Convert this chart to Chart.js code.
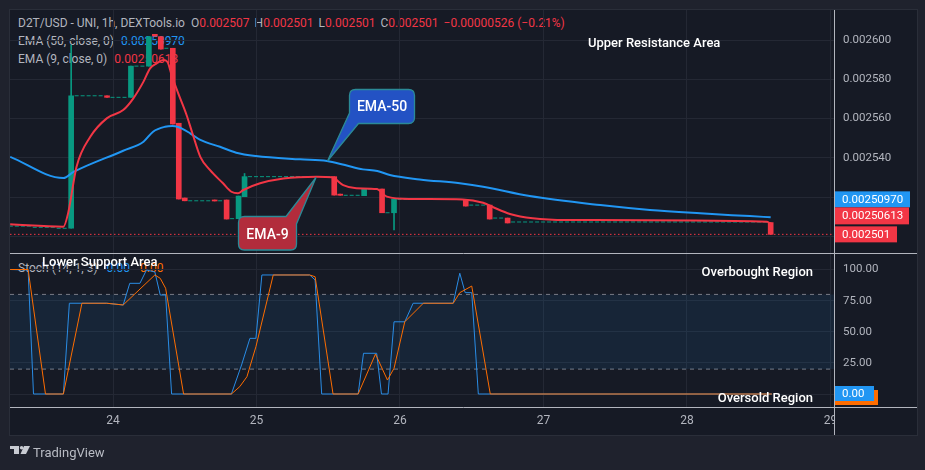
<!DOCTYPE html>
<html>
<head>
<meta charset="utf-8">
<script src="https://cdn.jsdelivr.net/npm/chart.js"></script>
<style>
body { margin:0; width:925px; height:470px; background:#1f222d; overflow:hidden; position:relative; font-family: Roboto, sans-serif; }
#frame { position:absolute; left:10px; top:10px; width:907px; height:425px; background:#161a25; box-shadow:0 0 0 1px #2a2e39; }
canvas { position:absolute; left:10px; z-index:2; }
.legend { position:absolute; z-index:1; font-size:12px; line-height:14px; color:#b2b5be; white-space:nowrap; }
.note { position:absolute; z-index:3; font-size:13px; font-weight:500; line-height:16px; color:#fff; white-space:nowrap; }
.red { color:#f23645; } .blue { color:#2196f3; } .orange { color:#ff6d00; }
</style>
</head>
<body>
<div id="frame"></div>

<div class="legend" style="left:18px;top:16px">D2T/USD - UNI, 1h, DEXTools.io<span style="margin-left:6px">O</span><span class="red">0.002507</span><span style="margin-left:5px">H</span><span class="red">0.002501</span><span style="margin-left:5px">L</span><span class="red">0.002501</span><span style="margin-left:5px">C</span><span class="red">0.002501</span><span class="red" style="margin-left:5px">−0.00000526 (−0.21%)</span></div>
<div class="legend" style="left:18px;top:34px">EMA (50, close, 0)<span class="blue" style="margin-left:7px">0.00250970</span></div>
<div class="legend" style="left:18px;top:52px">EMA (9, close, 0)<span class="red" style="margin-left:7px">0.00250613</span></div>
<div class="legend" style="left:18px;top:261px">Stoch (14, 1, 3)<span class="blue" style="margin-left:9px">0.00</span><span class="orange" style="margin-left:10px">0.00</span></div>

<canvas id="precos" width="907" height="244" style="top:10px"></canvas>
<canvas id="stoch" width="907" height="181" style="top:254px"></canvas>

<div class="note" style="left:588px;top:35px">Upper Resistance Area</div>
<div class="note" style="left:42px;top:254px">Lower Support Area</div>
<div class="note" style="right:112px;top:264px">Overbought Region</div>
<div class="note" style="right:112px;top:390px">Oversold Region</div>

<svg style="position:absolute;left:0;top:0;z-index:3" width="925" height="470">
  <path d="M355.5 89.5 H408.5 Q414.5 89.5 414.5 95.5 V117.5 Q414.5 123.5 408.5 123.5 H358.5 L327.5 161 L349.5 113 V95.5 Q349.5 89.5 355.5 89.5 Z" fill="#2352c4" stroke="#2b8a97" stroke-width="1.3"/>
  <text x="382" y="106" fill="#fff" font-family="Roboto" font-size="14" font-weight="500" text-anchor="middle" dominant-baseline="central">EMA-50</text>
  <path d="M244.5 216.5 H286 L316 177.5 L296.5 224 V244 Q296.5 250 290.5 250 H244.5 Q238.5 250 238.5 244 V222.5 Q238.5 216.5 244.5 216.5 Z" fill="#b22c3c" stroke="#2b8a97" stroke-width="1.3"/>
  <text x="267.5" y="233.5" fill="#fff" font-family="Roboto" font-size="14" font-weight="500" text-anchor="middle" dominant-baseline="central">EMA-9</text>
  <!-- logo -->
  <rect x="10" y="446" width="9" height="3" fill="#c8cbd2"/>
  <rect x="14" y="446" width="5" height="8" fill="#c8cbd2"/>
  <circle cx="21.6" cy="447.8" r="1.8" fill="#c8cbd2"/>
  <polygon points="24,446 30,446 26,454 20.5,454" fill="#c8cbd2"/>
  <text x="33" y="452" fill="#b9bcc4" font-family="Roboto" font-size="13" dominant-baseline="central">TradingView</text>
</svg>

<script>
// eixo x em horas a partir de 24 00:00
const xMin = -17.23, xMax = 120.59;
const priceMin = 0.0024915, priceMax = 0.0026153;
const stochMin = -10.44, stochMax = 112.45;

const dayTicks = [0, 24, 48, 72, 96, 120];
const dayLabels = ['24', '25', '26', '27', '28', '29'];

// velas com corpo
const candleHours = [-7, -1, 3, 6, 7, 8, 10, 11, 12, 17, 19, 21, 22, 37, 38, 42, 45, 47, 59, 63, 66, 110];
const candleOpen  = [0.0025041, 0.0025716, 0.0025708, 0.0025867, 0.0026029, 0.0026017, 0.0025958, 0.0025576, 0.0025195, 0.0025185, 0.0025185, 0.0025090, 0.0025202, 0.0025304, 0.0025215, 0.0025207, 0.0025241, 0.0025120, 0.0025185, 0.0025159, 0.0025093, 0.002507];
const candleClose = [0.0025716, 0.0025708, 0.0025867, 0.0026017, 0.0026020, 0.0025954, 0.0025572, 0.0025190, 0.0025181, 0.0025180, 0.0025088, 0.0025205, 0.0025304, 0.0025210, 0.0025209, 0.0025241, 0.0025120, 0.0025190, 0.0025154, 0.0025088, 0.0025068, 0.002501];
const candleHigh  = [0.0025974, 0.0025716, 0.0025867, 0.0026017, 0.0026029, 0.0026017, 0.0025958, 0.0025576, 0.0025195, 0.0025185, 0.0025185, 0.0025205, 0.0025320, 0.0025304, 0.0025215, 0.0025241, 0.0025241, 0.0025190, 0.0025185, 0.0025159, 0.0025093, 0.002507];
const candleLow   = [0.0025041, 0.0025708, 0.0025708, 0.0025867, 0.0026020, 0.0025954, 0.0025572, 0.0025190, 0.0025181, 0.0025180, 0.0025088, 0.0025090, 0.0025202, 0.0025210, 0.0025209, 0.0025207, 0.0025120, 0.0025032, 0.0025154, 0.0025088, 0.0025068, 0.002501];

// sequencias de velas sem corpo (doji)
const flatStart = [-17, -13, -9, -6, 0, 4, 9, 13, 18, 20, 23, 39, 43, 46, 48, 60, 64, 67];
const flatEnd   = [-14, -10, -8, -2, 2, 5, 9, 16, 18, 20, 36, 41, 44, 46, 58, 62, 65, 109];
const flatPrice = [0.0025052, 0.0025046, 0.0025041, 0.0025716, 0.0025708, 0.0025867, 0.0025958, 0.0025181, 0.0025181, 0.0025090, 0.0025304, 0.0025209, 0.0025241, 0.0025120, 0.0025188, 0.0025159, 0.0025093, 0.0025073];

const ema50Hours  = [-17.2, -8.3, -6.6, 1.7, 5.1, 6.7, 8.7, 9.9, 10.9, 12.9, 14.6, 17.9, 20.6, 23.9, 31.3, 35.8, 38.8, 41.8, 44.2, 46.3, 51.3, 58, 61.9, 69.7, 81.5, 89.8, 98.2, 106.5, 110];
const ema50Values = [0.0025405, 0.0025297, 0.0025328, 0.0025436, 0.0025482, 0.0025533, 0.0025558, 0.0025562, 0.0025557, 0.0025525, 0.0025491, 0.0025456, 0.0025426, 0.0025409, 0.0025392, 0.0025384, 0.0025363, 0.0025341, 0.0025333, 0.0025312, 0.0025290, 0.0025270, 0.0025253, 0.0025205, 0.0025159, 0.0025134, 0.0025117, 0.0025103, 0.0025097];

const ema9Hours  = [-17.2, -8.3, -7.5, -6.1, -3.8, -1.05, 1.7, 3.4, 5.1, 6.2, 7.3, 8.4, 9.1, 9.8, 10.8, 12.3, 13.2, 14.6, 16.2, 18.4, 19.8, 20.9, 21.8, 24.6, 28.5, 34.1, 36.6, 38.5, 40.7, 44.1, 45.8, 49.7, 58.5, 61.9, 63.6, 66.4, 70.2, 75.9, 109.4, 110];
const ema9Values = [0.0025061, 0.0025049, 0.0025119, 0.0025355, 0.0025507, 0.0025601, 0.0025643, 0.0025703, 0.0025788, 0.0025856, 0.0025881, 0.0025898, 0.0025889, 0.0025822, 0.0025737, 0.0025618, 0.0025533, 0.0025405, 0.0025338, 0.0025270, 0.0025227, 0.0025219, 0.0025236, 0.0025270, 0.0025295, 0.0025304, 0.0025301, 0.0025261, 0.0025245, 0.0025241, 0.0025202, 0.0025190, 0.0025188, 0.0025171, 0.0025148, 0.0025114, 0.0025092, 0.0025083, 0.0025074, 0.00250613];

const lastClose = 0.002501;

// estocastico
const stochKHours = [-17.2, -14.2, -13.3, -8.3, -7.3, -1.05, 1.7, 2.8, 4.5, 5.6, 7, 7.9, 8.8, 9.8, 19.8, 21.5, 22.9, 23.9, 24.9, 32.9, 33.8, 34.9, 41, 41.9, 44.1, 44.9, 46, 47, 48.8, 50.2, 56.9, 58, 58.9, 60, 61.1, 110.2];
const stochK      = [100, 99.6, 0, 0, 72.9, 72.9, 71.5, 88.9, 88.9, 99.6, 98, 79.5, 79.5, 0, 0, 23.3, 44.7, 44.7, 95.6, 95.6, 91.6, 0, 0, 32.7, 32.7, 0, 0, 58, 58, 72.9, 72.9, 97, 81.4, 81.4, 0, 0];
const stochDHours = [-17.2, -14.2, -11.3, -8.3, -5.2, -1.05, 1.7, 7, 7.9, 8.8, 11.8, 19.8, 21.2, 22.4, 23.9, 26.8, 32.9, 33.8, 36.8, 41, 43.9, 45.9, 47, 48.8, 51.9, 56.9, 58, 60, 63.1, 110.2];
const stochD      = [100, 100, 0, 0, 72.9, 72.9, 71.5, 95.6, 92.9, 84.9, 0, 0, 5.9, 13.9, 38, 95.6, 95.6, 94.2, 0, 0, 32.1, 11.2, 20.6, 58, 72.9, 72.9, 81.4, 86.7, 0, 0];
const bandTop = 80, bandBottom = 20;

const up = '#089981', down = '#f23645', blue = '#2196f3', orange = '#ff6d00';
const gridColor = '#242834', axisLine = '#b2b5be', tickColor = '#b2b5be', frameBg = '#161a25';

Chart.defaults.font.family = 'Roboto, sans-serif';

const toPoints = (xs, ys) => xs.map((x, i) => ({ x: x, y: ys[i] }));

const flatPoints = [];
flatStart.forEach((s, i) => {
    flatPoints.push({ x: s - 0.42, y: flatPrice[i] }, { x: flatEnd[i] + 0.42, y: flatPrice[i] }, { x: flatEnd[i] + 0.5, y: null });
});

function drawBox(ctx, x, top, w, h, color, text) {
    ctx.fillStyle = color;
    ctx.fillRect(x, top, w, h);
    if (text) {
        ctx.fillStyle = '#fff';
        ctx.font = '11.5px Roboto';
        ctx.textBaseline = 'middle';
        ctx.fillText(text, x + 7, top + h / 2 + 0.5);
    }
}

const priceLabels = {
    id: 'priceLabels',
    afterDraw(chart) {
        const { ctx, chartArea, scales } = chart;
        ctx.save();
        ctx.strokeStyle = axisLine;
        ctx.lineWidth = 1;
        ctx.beginPath();
        ctx.moveTo(0, chartArea.bottom + 0.5);
        ctx.lineTo(chart.width, chartArea.bottom + 0.5);
        ctx.moveTo(chartArea.right + 0.5, 0);
        ctx.lineTo(chartArea.right + 0.5, chartArea.bottom);
        ctx.stroke();
        const x0 = chartArea.right + 1;
        const yLast = scales.y.getPixelForValue(lastClose);
        drawBox(ctx, x0, yLast - 43, 75, 16, blue, ema50Values[ema50Values.length - 1].toFixed(8));
        drawBox(ctx, x0, yLast - 27, 74, 17, down, ema9Values[ema9Values.length - 1].toFixed(8));
        drawBox(ctx, x0, yLast - 8, 62, 16, down, lastClose.toFixed(6));
        ctx.restore();
    }
};

const stochLabels = {
    id: 'stochLabels',
    afterDraw(chart) {
        const { ctx, chartArea, scales } = chart;
        ctx.save();
        // corta o rotulo "29" no eixo de precos
        ctx.fillStyle = frameBg;
        ctx.fillRect(chartArea.right + 1, chartArea.bottom + 1, chart.width, chart.height);
        ctx.strokeStyle = axisLine;
        ctx.lineWidth = 1;
        ctx.beginPath();
        ctx.moveTo(0, chartArea.bottom + 0.5);
        ctx.lineTo(chart.width, chartArea.bottom + 0.5);
        ctx.moveTo(chartArea.right + 0.5, 0);
        ctx.lineTo(chartArea.right + 0.5, chart.height);
        ctx.stroke();
        const x0 = chartArea.right + 1;
        const y0 = scales.y.getPixelForValue(stochD[stochD.length - 1]);
        drawBox(ctx, x0, y0 - 4, 43, 15, orange, '');
        drawBox(ctx, x0, y0 - 8, 39, 15, blue, stochK[stochK.length - 1].toFixed(2));
        ctx.restore();
    }
};

const xScale = (showLabels, height) => ({
    type: 'linear', min: xMin, max: xMax, offset: false,
    grid: { color: gridColor, drawTicks: false, offset: false },
    border: { display: false },
    ticks: {
        display: showLabels, stepSize: 24, includeBounds: false, padding: 7, color: tickColor,
        font: { size: 12 }, maxRotation: 0, autoSkip: false,
        callback: v => { const i = dayTicks.indexOf(v); return i >= 0 ? dayLabels[i] : ''; }
    },
    afterFit: s => { s.height = height; s.paddingLeft = 0; s.paddingRight = 0; }
});

// eixo da direita com largura fixa e sem folga em cima/embaixo
const fitRight = s => { s.width = 83; s.paddingTop = 0; s.paddingBottom = 0; };

new Chart(document.getElementById('precos'), {
    type: 'bar',
    data: {
        datasets: [
            { type: 'line', data: toPoints(ema9Hours, ema9Values), borderColor: down, borderWidth: 2, pointRadius: 0, cubicInterpolationMode: 'monotone', order: 0 },
            { type: 'line', data: toPoints(ema50Hours, ema50Values), borderColor: blue, borderWidth: 2, pointRadius: 0, cubicInterpolationMode: 'monotone', order: 1 },
            {
                data: candleHours.map((h, i) => ({ x: h, y: [candleOpen[i], candleClose[i]] })),
                backgroundColor: candleHours.map((h, i) => candleClose[i] >= candleOpen[i] ? up : down),
                barThickness: 5, grouped: false, minBarLength: 1, order: 2
            },
            {
                data: candleHours.map((h, i) => ({ x: h, y: [candleLow[i], candleHigh[i]] })),
                backgroundColor: candleHours.map((h, i) => candleClose[i] >= candleOpen[i] ? up : down),
                barThickness: 1, grouped: false, order: 3
            },
            { type: 'line', data: flatPoints, borderColor: up, borderWidth: 1, borderDash: [4, 2], pointRadius: 0, spanGaps: false, order: 4 },
            { type: 'line', data: [{ x: xMin, y: lastClose }, { x: xMax, y: lastClose }], borderColor: down, borderWidth: 1, borderDash: [1.5, 2.5], pointRadius: 0, order: 5 }
        ]
    },
    options: {
        responsive: false, animation: false, events: [],
        layout: { padding: 0, autoPadding: false },
        plugins: { legend: { display: false }, tooltip: { enabled: false } },
        scales: {
            x: xScale(false, 1),
            y: {
                position: 'right', min: priceMin, max: priceMax,
                grid: { color: gridColor, drawTicks: false },
                border: { display: false },
                ticks: {
                    stepSize: 0.00002, includeBounds: false, padding: 9, color: tickColor, font: { size: 11.5 },
                    callback: v => v >= 0.00253 ? v.toFixed(6) : ''
                },
                afterFit: fitRight
            }
        }
    },
    plugins: [priceLabels]
});

new Chart(document.getElementById('stoch'), {
    type: 'line',
    data: {
        datasets: [
            { data: toPoints(stochDHours, stochD), borderColor: orange, borderWidth: 1, pointRadius: 0, order: 0 },
            { data: toPoints(stochKHours, stochK), borderColor: '#2a8de6', borderWidth: 1, pointRadius: 0, order: 1 },
            { data: [{ x: xMin, y: bandTop }, { x: xMax, y: bandTop }], borderColor: '#787b86', borderWidth: 1, borderDash: [4, 4], pointRadius: 0, fill: { value: bandBottom }, backgroundColor: 'rgba(33,150,243,0.09)', order: 2 },
            { data: [{ x: xMin, y: bandBottom }, { x: xMax, y: bandBottom }], borderColor: '#787b86', borderWidth: 1, borderDash: [4, 4], pointRadius: 0, order: 3 }
        ]
    },
    options: {
        responsive: false, animation: false, events: [],
        layout: { padding: 0, autoPadding: false },
        plugins: { legend: { display: false }, tooltip: { enabled: false } },
        scales: {
            x: xScale(true, 28),
            y: {
                position: 'right', min: stochMin, max: stochMax,
                grid: { color: gridColor, drawTicks: false },
                border: { display: false },
                ticks: {
                    stepSize: 25, includeBounds: false, padding: 9, color: tickColor, font: { size: 11.5 },
                    callback: v => v > 0 ? v.toFixed(2) : ''
                },
                afterFit: fitRight
            }
        }
    },
    plugins: [stochLabels]
});
</script>
</body>
</html>
